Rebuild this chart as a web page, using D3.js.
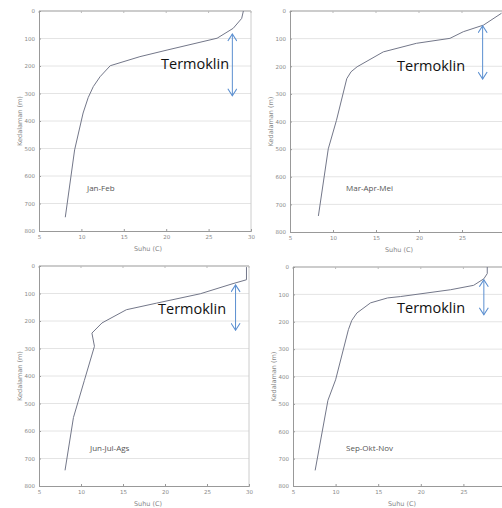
<!DOCTYPE html>
<html>
<head>
<meta charset="utf-8">
<script src="https://cdn.jsdelivr.net/npm/d3@7"></script>
<style>
  body { margin: 0; background: #fff; }
  svg { display: block; }
  .tick text { font-family: "DejaVu Sans", sans-serif; font-size: 5.5px; fill: #888; }
  .domain { stroke: #999; }
  .tick line { stroke: #999; }
</style>
</head>
<body>
<div id="chart-area"></div>
<script>
// data: temperature (C) vs depth (m)
const janFebTemp  = [8.1, 9.2, 10.2, 10.8, 11.4, 12.2, 13.4, 16.9, 20.1, 26.0, 27.9, 28.9, 29.1];
const janFebDepth = [750, 505, 371, 315, 275, 239, 199, 166, 142, 99, 63, 27, 0];

const marAprTemp  = [8.3, 9.45, 10.4, 11.6, 12.1, 12.8, 15.85, 19.7, 23.6, 25.15, 27.5, 29.6];
const marAprDepth = [742, 499, 396, 245, 220, 202, 148, 117, 99, 75, 51, 8];

const junJulTemp  = [8.1, 9.1, 10.4, 11.6, 11.3, 12.5, 15.4, 19.0, 24.2, 28.1, 29.7, 29.7];
const junJulDepth = [743, 551, 416, 292, 244, 207, 159, 135, 101, 64, 50, 4];

const sepOktTemp  = [7.6, 9.1, 10.0, 11.5, 11.9, 12.5, 14.1, 16.1, 17.6, 23.5, 26.2, 27.4, 27.8, 27.8];
const sepOktDepth = [743, 487, 412, 229, 195, 168, 131, 113, 108, 83, 67, 43, 24, 0];

const seasons = ["Jan-Feb", "Mar-Apr-Mei", "Jun-Jul-Ags", "Sep-Okt-Nov"];
const xTicks = [5, 10, 15, 20, 25, 30];
const yTicks = [0, 100, 200, 300, 400, 500, 600, 700, 800];
// thermocline arrows (depth top, depth bottom)
const thermoTop    = [80, 50, 65, 43];
const thermoBottom = [312, 250, 237, 178];

/* graphical constants */
const W = 502, H = 508;
const boxes = [
    { left: 39,  right: 251, top: 11,  bottom: 231 },
    { left: 290, right: 505, top: 11,  bottom: 232 },
    { left: 39,  right: 249, top: 266, bottom: 486 },
    { left: 293, right: 506, top: 267, bottom: 486 }
];
const arrowX = [27.8, 27.4, 28.4, 27.4];
const textPos = [
    { x: 161, dy: 58 },
    { x: 397, dy: 60 },
    { x: 158, dy: 48 },
    { x: 397, dy: 46 }
];
const labelPos = [{ x: 87, y: 191 }, { x: 346, y: 191 }, { x: 90, y: 451 }, { x: 346, y: 451 }];

const profiles = [
    janFebTemp.map((t, i) => ({ t: t, d: janFebDepth[i] })),
    marAprTemp.map((t, i) => ({ t: t, d: marAprDepth[i] })),
    junJulTemp.map((t, i) => ({ t: t, d: junJulDepth[i] })),
    sepOktTemp.map((t, i) => ({ t: t, d: sepOktDepth[i] }))
];

const svg = d3.select("#chart-area")
    .append("svg")
    .attr("width", W)
    .attr("height", H);

const defs = svg.append("defs");
["start", "end"].forEach(k => {
    defs.append("marker")
        .attr("id", "chev-" + k)
        .attr("viewBox", "0 0 10 10")
        .attr("refX", 9).attr("refY", 5)
        .attr("markerWidth", 10).attr("markerHeight", 10)
        .attr("markerUnits", "userSpaceOnUse")
        .attr("orient", k === "start" ? "auto-start-reverse" : "auto")
        .append("path")
        .attr("d", "M2,0.5 L9,5 L2,9.5")
        .attr("fill", "none")
        .attr("stroke", "#5b8fd0")
        .attr("stroke-width", 1.1);
});

boxes.forEach((b, i) => {
    const g = svg.append("g");
    const isRight = b.right > W;

    const x = d3.scaleLinear().domain([5, 30]).range([b.left, b.right]);
    const y = d3.scaleLinear().domain([0, 800]).range([b.top, b.bottom]);

    // grid
    g.selectAll(".grid")
        .data(yTicks.slice(1, -1))
        .enter().append("line")
        .attr("x1", b.left).attr("x2", b.right)
        .attr("y1", d => y(d)).attr("y2", d => y(d))
        .attr("stroke", "#e4e4e4");

    // frame top and right
    g.append("line")
        .attr("x1", b.left).attr("x2", b.right)
        .attr("y1", b.top).attr("y2", b.top)
        .attr("stroke", "#999");
    g.append("line")
        .attr("x1", b.right).attr("x2", b.right)
        .attr("y1", b.top).attr("y2", b.bottom)
        .attr("stroke", "#ccc");

    // top ticks
    g.selectAll(".ttick")
        .data(xTicks)
        .enter().append("line")
        .attr("x1", d => x(d)).attr("x2", d => x(d))
        .attr("y1", b.top).attr("y2", b.top + 2)
        .attr("stroke", "#bbb");

    g.append("g")
        .attr("transform", "translate(0," + b.bottom + ")")
        .call(d3.axisBottom(x).tickValues(xTicks).tickSize(-2).tickPadding(4)
            .tickFormat(d => (isRight && d === 30) ? "" : d));

    g.append("g")
        .attr("transform", "translate(" + b.left + ",0)")
        .call(d3.axisLeft(y).tickValues(yTicks).tickSize(-2).tickPadding(4));

    g.append("text")
        .attr("x", b.left + 109)
        .attr("y", b.bottom + 20)
        .attr("text-anchor", "middle")
        .attr("font-family", "DejaVu Sans, sans-serif")
        .attr("font-size", 6.5)
        .attr("fill", "#888")
        .text("Suhu (C)");

    g.append("text")
        .attr("transform", "translate(" + (b.left - 17) + "," + ((b.top + b.bottom) / 2) + ") rotate(-90)")
        .attr("text-anchor", "middle")
        .attr("font-family", "DejaVu Sans, sans-serif")
        .attr("font-size", 6.5)
        .attr("fill", "#888")
        .text("Kedalaman (m)");

    // profile
    const line = d3.line().x(d => x(d.t)).y(d => y(d.d));
    g.append("path")
        .datum(profiles[i])
        .attr("d", line)
        .attr("fill", "none")
        .attr("stroke", "#737789")
        .attr("stroke-width", 1)
        .attr("stroke-linejoin", "round");

    g.append("text")
        .attr("x", labelPos[i].x)
        .attr("y", labelPos[i].y)
        .attr("font-family", "Open Sans, sans-serif")
        .attr("font-size", 8)
        .attr("fill", "#555")
        .text(seasons[i]);

    // thermocline arrow
    g.append("line")
        .attr("x1", x(arrowX[i])).attr("x2", x(arrowX[i]))
        .attr("y1", y(thermoTop[i]) + 1).attr("y2", y(thermoBottom[i]) - 1)
        .attr("stroke", "#5b8fd0")
        .attr("stroke-width", 1)
        .attr("marker-start", "url(#chev-start)")
        .attr("marker-end", "url(#chev-end)");

    g.append("text")
        .attr("x", textPos[i].x)
        .attr("y", b.top + textPos[i].dy)
        .attr("font-family", "Open Sans, sans-serif")
        .attr("font-size", 14.5)
        .attr("fill", "#111")
        .text("Termoklin");
});
</script>
</body>
</html>
